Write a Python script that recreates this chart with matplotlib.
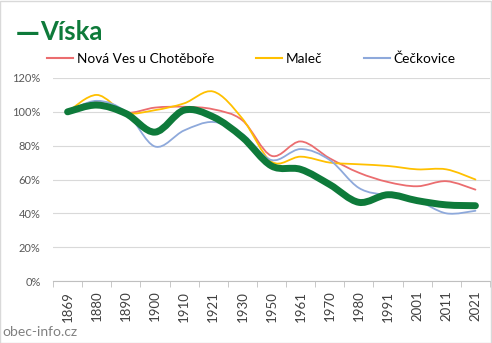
import numpy as np
import matplotlib.pyplot as plt
from matplotlib.path import Path
from matplotlib.patches import PathPatch
from matplotlib.lines import Line2D

plt.rcParams['font.family'] = ['Lato', 'DejaVu Sans']

years = ['1869', '1880', '1890', '1900', '1910', '1921', '1930', '1950',
         '1961', '1970', '1980', '1991', '2001', '2011', '2021']
viska = [100, 104, 99, 88, 101, 97, 85, 68, 66, 57, 46.5, 51, 47.5, 45, 44.5]
nova_ves = [100, 106, 99.5, 102.5, 103, 101.5, 95, 74, 82.5, 72.5, 64, 58.5, 56, 59, 54]
malec = [100, 110, 99.5, 101, 105, 112, 96, 70.5, 73.5, 70, 69, 68, 66, 66, 60]
ceckovice = [100, 106.5, 100, 79.5, 89, 94, 87, 71.5, 78, 71.5, 55, 50.5, 47.5, 40, 41.5]


def smooth_path(ys):
    # Excel-like smoothed line: cubic Bezier through every point
    x = np.arange(len(ys), dtype=float)
    y = np.array(ys, dtype=float) / 100
    pts = np.column_stack([x, y])
    ext = np.vstack([pts[0], pts, pts[-1]])
    verts = [pts[0]]
    codes = [Path.MOVETO]
    for i in range(len(pts) - 1):
        p0, p1, p2, p3 = ext[i], ext[i + 1], ext[i + 2], ext[i + 3]
        verts += [p1 + (p2 - p0) / 6, p2 - (p3 - p1) / 6, p2]
        codes += [Path.CURVE4] * 3
    return Path(verts, codes)


fig = plt.figure(figsize=(4.92, 3.43), dpi=100)
ax = fig.add_axes([53 / 492, 62 / 343, 437 / 492, 203 / 343])

series = [(nova_ves, '#EB6D6F', 1.3, 'Nová Ves u Chotěboře'),
          (malec, '#FFC000', 1.3, 'Maleč'),
          (ceckovice, '#8EA9DB', 1.3, 'Čečkovice'),
          (viska, '#0E7A3A', 5.0, None)]
handles = []
for ys, col, lw, name in series:
    ax.add_patch(PathPatch(smooth_path(ys), facecolor='none', edgecolor=col,
                           lw=lw, capstyle='round', joinstyle='round', zorder=3))
    if name:
        handles.append(Line2D([], [], color=col, lw=1.5, label=name))

ax.set_xlim(-0.5, len(years) - 0.5)
ax.set_ylim(0, 1.2)
ax.set_yticks(np.arange(0, 1.21, 0.2))
ax.set_yticklabels([f'{int(round(v * 100))}%' for v in np.arange(0, 1.21, 0.2)])
ax.set_xticks(range(len(years)))
ax.set_xticklabels(years, rotation=90)
ax.set_xticks(np.arange(-0.5, len(years), 1), minor=True)
ax.tick_params(axis='x', which='major', length=0, pad=7, labelsize=9.5, labelcolor='#404040')
ax.tick_params(axis='x', which='minor', length=4, color='#BFBFBF', direction='out')
ax.tick_params(axis='y', length=0, pad=9, labelsize=8, labelcolor='#595959')
ax.grid(axis='y', color='#D9D9D9', lw=0.8)
ax.set_axisbelow(True)
for s in ['top', 'right', 'left']:
    ax.spines[s].set_visible(False)
ax.spines['bottom'].set_color('#BFBFBF')

fig.text(16 / 492, 1 - 33 / 343, '—', color='#0E7A3A', fontsize=17,
         fontweight='bold', va='center', ha='left', family='DejaVu Sans')
fig.text(40 / 492, 1 - 32 / 343, 'Víska', color='#0E7A3A', fontsize=18.5,
         fontweight='bold', va='center', ha='left')
fig.legend(handles=handles, loc='center left', bbox_to_anchor=(47 / 492, 1 - 59 / 343),
           ncol=3, frameon=False, fontsize=9.8, handlelength=1.9, handletextpad=0.3,
           columnspacing=3.05, borderaxespad=0, borderpad=0)
fig.text(2 / 492, 1 - 332 / 343, 'obec-info.cz', color='#808080', fontsize=10,
         va='center', ha='left')
fig.patches.append(plt.Rectangle((0.001, 0.001), 0.997, 0.996, transform=fig.transFigure,
                                 fill=False, edgecolor='#D9D9D9', lw=1))

fig.savefig('out.png', dpi=100)
